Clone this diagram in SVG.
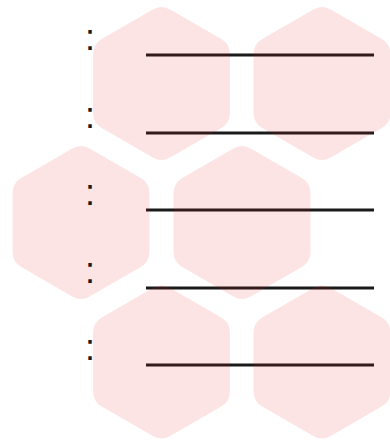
<svg xmlns="http://www.w3.org/2000/svg" xmlns:xlink="http://www.w3.org/1999/xlink" width="390" height="442" viewBox="0 0 390 442">
  <style>
    .rule { stroke: #1a1a1a; stroke-width: 3; fill: none; }
    .hex { fill: #ee2222; fill-opacity: 0.12; }
    .colon { font-family: "Liberation Sans", Arial, sans-serif; font-size: 36px; fill: #1a1a1a; text-anchor: middle; }
  </style>
  <defs>
    <path id="hexShape" d="M -8.66,-74 Q 0,-79 8.66,-74 L 59.76,-44.5 Q 68.42,-39.5 68.42,-29.5 L 68.42,29.5 Q 68.42,39.5 59.76,44.5 L 8.66,74 Q 0,79 -8.66,74 L -59.76,44.5 Q -68.42,39.5 -68.42,29.5 L -68.42,-29.5 Q -68.42,-39.5 -59.76,-44.5 Z"/>
  </defs>
  <rect width="390" height="442" fill="#ffffff"/>
  <g id="connectors">
    <line class="rule" x1="146" y1="55" x2="374" y2="55"/>
    <line class="rule" x1="146" y1="133" x2="374" y2="133"/>
    <line class="rule" x1="146" y1="210" x2="374" y2="210"/>
    <line class="rule" x1="146" y1="288" x2="374" y2="288"/>
    <line class="rule" x1="146" y1="365" x2="374" y2="365"/>
  </g>
  <g id="hex1"><use class="hex" xlink:href="#hexShape" href="#hexShape" x="161.5" y="83.5"/></g>
  <g id="hex2"><use class="hex" xlink:href="#hexShape" href="#hexShape" x="322" y="83.5"/></g>
  <g id="hex3"><use class="hex" xlink:href="#hexShape" href="#hexShape" x="81" y="222.5"/></g>
  <g id="hex4"><use class="hex" xlink:href="#hexShape" href="#hexShape" x="242" y="222.5"/></g>
  <g id="hex5"><use class="hex" xlink:href="#hexShape" href="#hexShape" x="161.5" y="362"/></g>
  <g id="hex6"><use class="hex" xlink:href="#hexShape" href="#hexShape" x="322" y="362"/></g>
  <g id="labels">
    <text class="colon" x="90" y="50">:</text>
    <text class="colon" x="90" y="128">:</text>
    <text class="colon" x="90" y="205">:</text>
    <text class="colon" x="90" y="283">:</text>
    <text class="colon" x="90" y="360">:</text>
  </g>
</svg>
